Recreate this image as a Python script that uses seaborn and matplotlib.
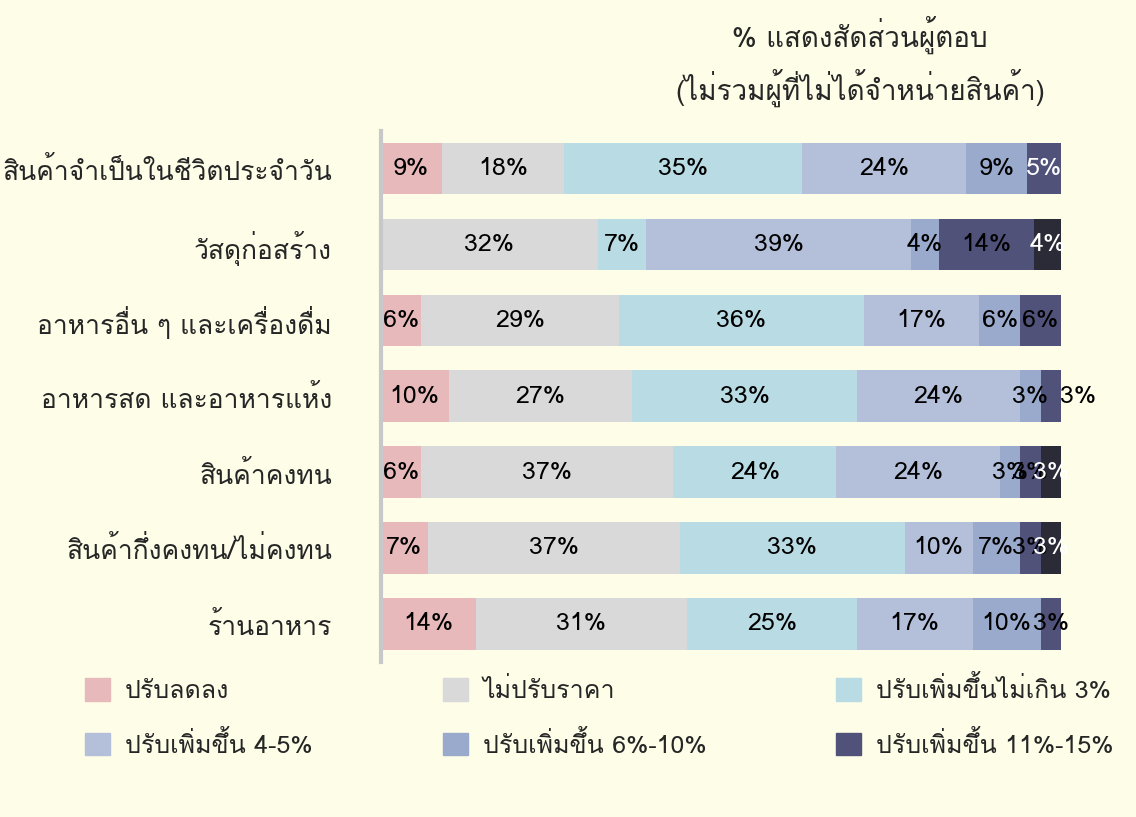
import numpy as np
import matplotlib
matplotlib.use("Agg")
import matplotlib.pyplot as plt
import seaborn as sns
from matplotlib.patches import Patch

categories = ["สินค้าจำเป็นในชีวิตประจำวัน", "วัสดุก่อสร้าง", "อาหารอื่น ๆ และเครื่องดื่ม",
              "อาหารสด และอาหารแห้ง", "สินค้าคงทน", "สินค้ากึ่งคงทน/ไม่คงทน", "ร้านอาหาร"]
series_names = ["ปรับลดลง", "ไม่ปรับราคา", "ปรับเพิ่มขึ้นไม่เกิน 3%",
                "ปรับเพิ่มขึ้น 4-5%", "ปรับเพิ่มขึ้น 6%-10%", "ปรับเพิ่มขึ้น 11%-15%", "มากกว่า 15%"]
values = [
    [9, 18, 35, 24, 9, 5, 0],
    [0, 32, 7, 39, 4, 14, 4],
    [6, 29, 36, 17, 6, 6, 0],
    [10, 27, 33, 24, 3, 3, 0],
    [6, 37, 24, 24, 3, 3, 3],
    [7, 37, 33, 10, 7, 3, 3],
    [14, 31, 25, 17, 10, 3, 0],
]
colors = ["#E8B9BA", "#D9D9D9", "#B9DBE3", "#B4C0DA", "#9AAACC", "#50527A", "#2B2B38"]
text_colors = ["black", "black", "black", "black", "black", "black", "white"]

sns.set_style("white")
plt.rcParams['font.family'] = ['Loma', 'Garuda', 'Norasi', 'DejaVu Sans']
bg = "#FEFDE8"
fig = plt.figure(figsize=(11.36, 8.17), dpi=100, facecolor=bg)
ax = fig.add_axes([0.335, 0.19, 0.599, 0.65], facecolor=bg)

vals = np.array(values, dtype=float)
y = np.arange(len(categories))
left = np.zeros(len(categories))
for j in range(vals.shape[1]):
    ax.barh(y, vals[:, j], left=left, height=0.68, color=colors[j], edgecolor="none")
    for i in range(len(categories)):
        v = vals[i, j]
        if v > 0:
            tc = text_colors[j]
            if i == 0 and j == 5:
                tc = "white"
            xpos = left[i] + v / 2
            if i == 3 and j == 5:
                xpos = left[i] + v + 2.5
            ax.text(xpos, y[i], f"{int(v)}%", ha="center", va="center",
                    fontsize=18, color=tc, clip_on=False)
    left += vals[:, j]

ax.set_xlim(0, 100)
ax.set_ylim(len(categories) - 0.5, -0.5)
ax.set_yticks(y)
ax.set_yticklabels(categories, fontsize=19)
ax.set_xticks([])
ax.tick_params(axis="y", length=0, pad=35)
for s in ["top", "right", "bottom"]:
    ax.spines[s].set_visible(False)
ax.spines["left"].set_color("#C8C8C8")
ax.spines["left"].set_linewidth(3)

fig.text(0.757, 0.957, "% แสดงสัดส่วนผู้ตอบ", ha="center", va="center", fontsize=20)
fig.text(0.757, 0.893, "(ไม่รวมผู้ที่ไม่ได้จำหน่ายสินค้า)", ha="center", va="center", fontsize=20)

order = [0, 3, 1, 4, 2, 5]
handles = [Patch(color=colors[k]) for k in order]
labels = [series_names[k] for k in order]
fig.legend(handles, labels, loc="lower left", bbox_to_anchor=(0.055, 0.045),
           ncol=3, frameon=False, fontsize=18, handlelength=1.0, handleheight=1.0,
           columnspacing=5.2, labelspacing=1.1, handletextpad=0.6)
fig.savefig("out.png", dpi=100, facecolor=bg)
